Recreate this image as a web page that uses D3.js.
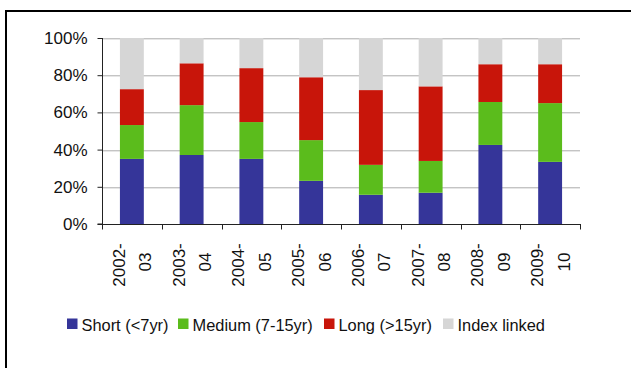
<!DOCTYPE html>
<html>
<head>
<meta charset="utf-8">
<script src="https://cdn.jsdelivr.net/npm/d3@7"></script>
<style>
  html, body { margin: 0; padding: 0; background: #fff; }
  svg { display: block; font-family: "Liberation Sans", Arial, sans-serif; }
</style>
</head>
<body>
<svg id="chart" width="631" height="368"></svg>
<script>
// Gilt issuance split by maturity band, share of total per financial year
const years = ["2002-03", "2003-04", "2004-05", "2005-06", "2006-07", "2007-08", "2008-09", "2009-10"];
const shortVals  = [35.0, 37.1, 35.0, 23.2, 15.7, 16.8, 42.5, 33.4];
const mediumVals = [18.2, 26.8, 19.8, 21.9, 16.1, 17.1, 23.1, 31.6];
const longVals   = [19.3, 22.5, 29.0, 33.8, 40.2, 40.1, 20.3, 20.9];
const indexVals  = [27.5, 13.6, 16.2, 21.1, 28.0, 26.0, 14.1, 14.1];
const seriesNames = ["Short (<7yr)", "Medium (7-15yr)", "Long (>15yr)", "Index linked"];
const seriesColors = ["#353599", "#5BBC1C", "#C8150A", "#D6D6D6"];
const yTicks = [0, 20, 40, 60, 80, 100];

const keys = ["short", "medium", "long", "index"];
const rows = years.map((y, i) => ({
  year: y, short: shortVals[i], medium: mediumVals[i], long: longVals[i], index: indexVals[i]
}));

const svg = d3.select("#chart");
const plotLeft = 102, plotRight = 580, plotTop = 38, plotBottom = 224;

const x = d3.scaleBand().domain(years).range([plotLeft, plotRight]).paddingInner(0.6).paddingOuter(0.3);
const band = d3.scaleBand().domain(years).range([plotLeft, plotRight]);
const y = d3.scaleLinear().domain([0, 100]).range([plotBottom, plotTop]);

// outer frame (top and left edges)
svg.append("line").attr("x1", 6).attr("x2", 631).attr("y1", 11).attr("y2", 11)
  .attr("stroke", "#000").attr("stroke-width", 2);
svg.append("line").attr("x1", 6).attr("x2", 6).attr("y1", 10).attr("y2", 368)
  .attr("stroke", "#000").attr("stroke-width", 2);

// horizontal gridlines
const grid = svg.append("g");
yTicks.filter(t => t > 0).forEach(t => {
  const yy = Math.round(y(t)) + 0.5;
  grid.append("line").attr("x1", plotLeft).attr("x2", plotRight).attr("y1", yy).attr("y2", yy)
    .attr("stroke", "#C4C4C4");
  grid.append("line").attr("x1", plotLeft).attr("x2", plotRight).attr("y1", yy + 1).attr("y2", yy + 1)
    .attr("stroke", "#E6E6E6");
});

// stacked bars
const stacked = d3.stack().keys(keys)(rows);
svg.append("g").selectAll("g").data(stacked).join("g")
  .attr("fill", (d, i) => seriesColors[i])
  .selectAll("rect").data(d => d).join("rect")
  .attr("x", d => x(d.data.year))
  .attr("width", x.bandwidth())
  .attr("y", d => y(d[1]))
  .attr("height", d => y(d[0]) - y(d[1]));

// y axis
const yAxis = svg.append("g").attr("transform", `translate(${plotLeft + 0.5},0)`)
  .call(d3.axisLeft(y).tickValues(yTicks).tickFormat(d => d + "%").tickSize(5).tickPadding(10));
yAxis.select(".domain").attr("stroke", "#222").attr("d", `M-5,${y(0)}H0V${plotTop}`);
yAxis.selectAll(".tick line").attr("stroke", "#222");
yAxis.selectAll(".tick text").attr("font-size", 17).attr("fill", "#111")
  .attr("font-family", "Liberation Sans, Arial, sans-serif");

// x axis with band-edge ticks
const xAxis = svg.append("g").attr("transform", `translate(0,${plotBottom + 0.5})`);
xAxis.append("line").attr("x1", plotLeft).attr("x2", plotRight + 1).attr("stroke", "#222");
const edges = years.map(yv => band(yv)).concat([plotRight]);
xAxis.selectAll("line.edge").data(edges).join("line").attr("class", "edge")
  .attr("x1", d => Math.round(d) + 0.5).attr("x2", d => Math.round(d) + 0.5)
  .attr("y1", 0).attr("y2", 5).attr("stroke", "#222");

// rotated two-line category labels
const labels = svg.append("g");
years.forEach(yv => {
  const cx = x(yv) + x.bandwidth() / 2;
  const parts = yv.split("-");
  const g = labels.append("g").attr("transform", `translate(${cx},265) rotate(-90)`);
  g.append("text").attr("x", 0).attr("y", -7).attr("text-anchor", "middle")
    .attr("font-size", 17).attr("fill", "#111").text(parts[0] + "-");
  g.append("text").attr("x", 3).attr("y", 19.5).attr("text-anchor", "middle")
    .attr("font-size", 17).attr("fill", "#111").text(parts[1]);
});

// legend
const legendX = [67, 178, 324, 443];
const legend = svg.append("g");
seriesNames.forEach((name, i) => {
  legend.append("rect").attr("x", legendX[i]).attr("y", 318.5).attr("width", 10.5).attr("height", 10.5)
    .attr("fill", seriesColors[i]);
  legend.append("text").attr("x", legendX[i] + 14.5).attr("y", 330.5)
    .attr("font-size", 16.4).attr("fill", "#111").text(name);
});
</script>
</body>
</html>
